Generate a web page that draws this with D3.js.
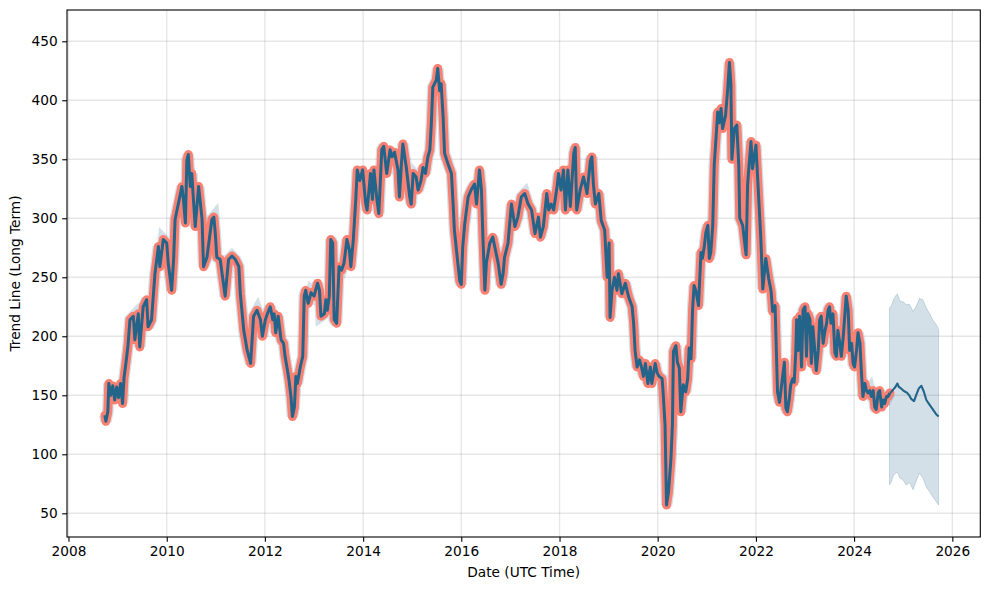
<!DOCTYPE html>
<html>
<head>
<meta charset="utf-8">
<script src="https://cdn.jsdelivr.net/npm/d3@7"></script>
<style>
  html, body { margin: 0; padding: 0; background: #fff; }
  svg text { font-family: "DejaVu Sans", sans-serif; fill: #000; }
</style>
</head>
<body>
<svg id="chart" width="989" height="590"></svg>
<script>
// ---- data (decimal years) ----
const historyYears = [
2008.74,2008.76,2008.80,2008.82,2008.86,2008.90,2008.94,2008.98,2009.02,2009.06,2009.10,2009.13,2009.17,2009.21,2009.25,2009.32,2009.35,2009.42,2009.45,2009.52,
2009.59,2009.62,2009.69,2009.76,2009.83,2009.86,2009.93,2010.00,2010.03,2010.10,2010.14,2010.17,2010.24,2010.31,2010.34,2010.38,2010.41,2010.44,2010.48,2010.51,
2010.58,2010.65,2010.72,2010.75,2010.82,2010.92,2010.96,2010.99,2011.02,2011.09,2011.19,2011.26,2011.33,2011.40,2011.47,2011.50,2011.57,2011.64,2011.71,2011.77,
2011.84,2011.91,2011.95,2012.01,2012.05,2012.11,2012.16,2012.19,2012.22,2012.27,2012.33,2012.38,2012.41,2012.46,2012.49,2012.53,2012.56,2012.60,2012.63,2012.66,
2012.72,2012.77,2012.80,2012.83,2012.88,2012.94,2013.00,2013.07,2013.11,2013.14,2013.21,2013.24,2013.27,2013.31,2013.34,2013.38,2013.41,2013.46,2013.51,2013.56,
2013.61,2013.67,2013.72,2013.75,2013.80,2013.85,2013.88,2013.93,2013.99,2014.02,2014.05,2014.08,2014.12,2014.15,2014.19,2014.22,2014.28,2014.32,2014.38,2014.42,
2014.48,2014.55,2014.59,2014.64,2014.71,2014.74,2014.78,2014.81,2014.88,2014.95,2014.98,2015.02,2015.08,2015.12,2015.18,2015.22,2015.27,2015.32,2015.36,2015.39,
2015.42,2015.49,2015.52,2015.56,2015.59,2015.63,2015.66,2015.73,2015.80,2015.83,2015.86,2015.93,2015.97,2016.00,2016.03,2016.07,2016.14,2016.20,2016.27,2016.31,
2016.37,2016.41,2016.44,2016.48,2016.51,2016.58,2016.64,2016.68,2016.75,2016.81,2016.85,2016.88,2016.95,2017.02,2017.09,2017.15,2017.22,2017.29,2017.36,2017.43,
2017.50,2017.57,2017.61,2017.67,2017.74,2017.78,2017.83,2017.88,2017.95,2017.98,2018.03,2018.08,2018.12,2018.17,2018.22,2018.29,2018.32,2018.35,2018.42,2018.49,
2018.56,2018.63,2018.66,2018.69,2018.73,2018.80,2018.85,2018.92,2018.97,2019.01,2019.03,2019.07,2019.12,2019.17,2019.20,2019.27,2019.34,2019.41,2019.48,2019.51,
2019.54,2019.58,2019.63,2019.67,2019.71,2019.75,2019.80,2019.85,2019.88,2019.95,2019.99,2020.03,2020.09,2020.11,2020.15,2020.18,2020.22,2020.27,2020.30,2020.32,
2020.37,2020.40,2020.44,2020.47,2020.52,2020.57,2020.61,2020.64,2020.68,2020.71,2020.74,2020.78,2020.83,2020.88,2020.91,2020.95,2020.98,2021.02,2021.05,2021.08,
2021.12,2021.15,2021.19,2021.22,2021.25,2021.29,2021.32,2021.38,2021.42,2021.46,2021.49,2021.51,2021.56,2021.61,2021.65,2021.67,2021.73,2021.76,2021.80,2021.83,
2021.86,2021.90,2021.93,2022.00,2022.05,2022.10,2022.14,2022.20,2022.26,2022.31,2022.34,2022.39,2022.44,2022.48,2022.53,2022.58,2022.61,2022.64,2022.68,2022.71,
2022.75,2022.78,2022.81,2022.83,2022.86,2022.89,2022.93,2022.96,2023.00,2023.03,2023.06,2023.10,2023.13,2023.16,2023.20,2023.23,2023.27,2023.30,2023.33,2023.37,
2023.40,2023.44,2023.47,2023.50,2023.53,2023.57,2023.61,2023.64,2023.67,2023.71,2023.74,2023.78,2023.81,2023.84,2023.88,2023.91,2023.95,2023.98,2024.01,2024.05,
2024.08,2024.12,2024.15,2024.18,2024.22,2024.25,2024.29,2024.32,2024.35,2024.39,2024.42,2024.45,2024.49,2024.52,2024.56,2024.59,2024.62,2024.66,2024.69,2024.73
];
const historyValues = [
133,128,136,160,150,158,146,157,148,160,143,165,178,192,214,217,197,219,191,225,
231,208,214,253,276,259,282,279,262,239,265,299,313,327,316,296,349,354,327,338,
293,327,299,259,267,299,301,287,267,265,234,265,268,265,259,236,205,188,177,217,
222,214,200,214,219,225,214,219,203,217,197,194,183,171,163,149,132,140,166,160,
174,183,234,239,228,237,234,245,239,217,219,231,222,234,282,279,214,211,259,256,
262,282,273,259,282,316,341,332,341,327,313,307,324,338,316,341,316,304,358,361,
338,358,352,356,341,318,346,363,343,318,312,338,335,324,332,343,338,352,358,380,
411,417,427,408,414,386,355,346,338,315,290,262,247,244,276,295,318,324,329,312,
341,324,284,239,262,279,284,276,262,244,253,267,279,312,293,301,318,321,312,307,
287,301,284,293,321,307,312,307,327,338,324,341,307,341,310,355,360,307,324,335,
321,349,352,329,312,321,298,290,250,279,216,239,250,239,253,236,245,233,225,211,
188,174,180,174,166,177,160,174,160,177,169,166,164,153,125,57,68,96,125,187,
192,178,173,136,159,153,164,190,181,223,243,238,226,271,266,277,288,294,266,271,
294,345,370,390,381,393,376,387,407,432,413,350,376,379,345,300,294,283,269,328,
345,365,342,362,322,283,240,266,249,238,221,226,153,144,161,178,139,136,147,159,
164,161,185,214,188,217,174,222,225,183,219,214,177,208,188,171,188,214,217,194,
203,211,222,225,211,219,186,183,205,194,183,200,217,234,222,188,194,177,174,188,
203,194,169,149,160,154,152,154,149,154,140,138,152,154,140,146,143,149,149,152
];
const forecastYears = [2024.73,2024.76,2024.80,2024.84,2024.88,2024.91,2024.95,2025.00,2025.04,2025.08,2025.12,2025.16,2025.22,2025.27,2025.32,2025.37,2025.42,2025.47,2025.52,2025.57,2025.62,2025.67,2025.72];
const forecastValues = [152,153,155,157,160,157,156,154,153,152,150,147,145,151,156,158,153,146,143,140,137,134,132];
const bandYears = [2024.72,2024.76,2024.80,2024.84,2024.88,2024.93,2025.00,2025.06,2025.13,2025.20,2025.27,2025.33,2025.40,2025.47,2025.54,2025.60,2025.67,2025.72];
const bandUpper = [224,226,231,234,236,230,229,227,227,221,226,232,231,224,219,214,210,206];
const bandLower = [74,77,82,84,85,80,78,74,76,70,78,84,80,72,68,64,60,57];
const yTicks = [50,100,150,200,250,300,350,400,450];
const xTickYears = [2008,2010,2012,2014,2016,2018,2020,2022,2024,2026];
const xLabel = "Date (UTC Time)";
const yLabel = "Trend Line (Long Term)";

// ---- helpers ----
function yearToDate(y) {
  const yr = Math.floor(y);
  const s = Date.UTC(yr, 0, 1), e = Date.UTC(yr + 1, 0, 1);
  return new Date(s + (y - yr) * (e - s));
}

const svg = d3.select("#chart");
const L = 67, R = 980.3, T = 10, B = 537;
const LINE = "#23648a";
const SALMON = "#fa8072";

const x = d3.scaleUtc()
  .domain([yearToDate(2007.97), yearToDate(2026.57)])
  .range([L, R]);
const y = d3.scaleLinear().domain([29.9, 476.5]).range([B, T]);

const hist = historyYears.map((t, i) => ({ d: yearToDate(t), v: historyValues[i] }));
const fc = forecastYears.map((t, i) => ({ d: yearToDate(t), v: forecastValues[i] }));
const band = bandYears.map((t, i) => ({ d: yearToDate(t), lo: bandLower[i], hi: bandUpper[i] }));

// grid
const grid = svg.append("g");
grid.selectAll("line.h").data(yTicks).join("line")
  .attr("x1", L).attr("x2", R)
  .attr("y1", d => y(d)).attr("y2", d => y(d))
  .attr("stroke", "gray").attr("stroke-opacity", 0.2).attr("stroke-width", 1.37);
grid.selectAll("line.v").data(xTickYears).join("line")
  .attr("y1", T).attr("y2", B)
  .attr("x1", d => x(yearToDate(d))).attr("x2", d => x(yearToDate(d)))
  .attr("stroke", "gray").attr("stroke-opacity", 0.2).attr("stroke-width", 1.37);

const line = d3.line().x(d => x(d.d)).y(d => y(d.v));

// uncertainty band (forecast)
svg.append("path").datum(band)
  .attr("d", d3.area().x(d => x(d.d)).y0(d => y(d.lo)).y1(d => y(d.hi)))
  .attr("fill", LINE).attr("fill-opacity", 0.2)
  .attr("stroke", LINE).attr("stroke-opacity", 0.2).attr("stroke-width", 1);

// uncertainty halo around history
svg.append("path").datum(hist)
  .attr("d", line)
  .attr("fill", "none").attr("stroke", LINE).attr("stroke-opacity", 0.2)
  .attr("stroke-width", 11.5).attr("stroke-linejoin", "miter").attr("stroke-miterlimit", 3);

// salmon highlight over history
svg.append("path").datum(hist)
  .attr("d", line)
  .attr("fill", "none").attr("stroke", SALMON)
  .attr("stroke-width", 9).attr("stroke-linejoin", "round").attr("stroke-linecap", "round");

// trend line: history part (denser look) and forecast part
svg.append("path").datum(hist)
  .attr("d", line)
  .attr("fill", "none").attr("stroke", LINE)
  .attr("stroke-width", 3).attr("stroke-linejoin", "round");
svg.append("path").datum(fc)
  .attr("d", line)
  .attr("fill", "none").attr("stroke", LINE)
  .attr("stroke-width", 2.1).attr("stroke-linejoin", "round");

// axes
const fs = "13.7px";
const xAxis = d3.axisBottom(x)
  .tickValues(xTickYears.map(yearToDate))
  .tickFormat(d3.utcFormat("%Y"))
  .tickSizeInner(4.8).tickSizeOuter(0).tickPadding(4.5);
const gx = svg.append("g").attr("transform", `translate(0,${B})`).call(xAxis);
gx.select(".domain").remove();
gx.selectAll("line").attr("stroke", "#000").attr("stroke-width", 1.1);
gx.selectAll("text").style("font-size", fs).attr("font-family", "DejaVu Sans");

const yAxis = d3.axisLeft(y).tickValues(yTicks)
  .tickSizeInner(4.8).tickSizeOuter(0).tickPadding(4.5);
const gy = svg.append("g").attr("transform", `translate(${L},0)`).call(yAxis);
gy.select(".domain").remove();
gy.selectAll("line").attr("stroke", "#000").attr("stroke-width", 1.1);
gy.selectAll("text").style("font-size", fs).attr("font-family", "DejaVu Sans");

// frame
svg.append("rect").attr("x", L).attr("y", T).attr("width", R - L).attr("height", B - T)
  .attr("fill", "none").attr("stroke", "#000").attr("stroke-width", 1.1);

// labels
svg.append("text").attr("x", (L + R) / 2).attr("y", 577)
  .attr("text-anchor", "middle").style("font-size", fs).text(xLabel);
svg.append("text")
  .attr("transform", `translate(20,${(T + B) / 2}) rotate(-90)`)
  .attr("text-anchor", "middle").style("font-size", fs).text(yLabel);
</script>
</body>
</html>
